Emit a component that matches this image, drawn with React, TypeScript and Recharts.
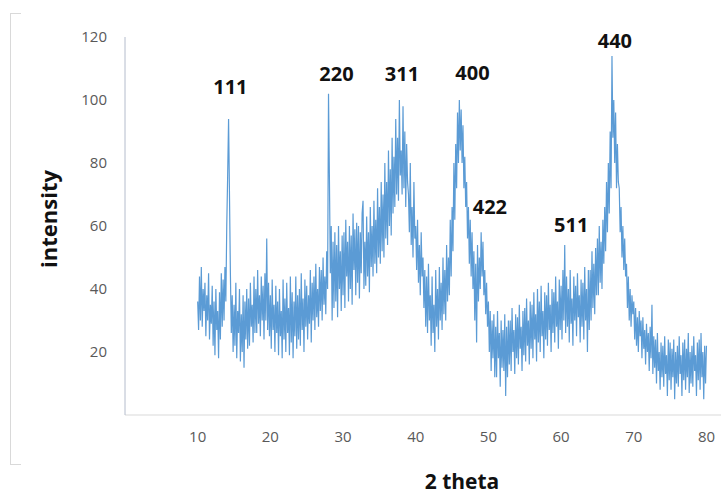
import { LineChart, Line, XAxis, YAxis, ReferenceDot } from 'recharts';

// 2-theta sampling grid (degrees)
const START_ANGLE = 10;
const STEP = 0.125;

// intensity, 8 samples per degree from 10 to 80
const INTENSITY = [
  36, 27, 44, 30, 47, 28, 40, 33, // 10
  42, 25, 38, 30, 45, 24, 35, 29,
  41, 22, 36, 19, 40, 27, 33, 18,
  39, 24, 45, 28, 43, 30, 47, 36,
  60, 76, 94, 70, 45, 26, 38, 20, // 14
  35, 22, 42, 18, 33, 26, 40, 17,
  32, 20, 38, 15, 36, 24, 40, 21,
  37, 22, 42, 28, 35, 23, 44, 26,
  40, 26, 46, 29, 38, 25, 44, 30,
  41, 24, 45, 30, 56, 27, 42, 25,
  38, 21, 43, 27, 35, 20, 41, 26, // 20
  36, 19, 40, 25, 33, 18, 43, 24,
  37, 20, 42, 26, 34, 19, 44, 23,
  39, 18, 36, 25, 44, 21, 38, 24,
  40, 22, 45, 27, 37, 20, 43, 28,
  41, 24, 38, 29, 46, 23, 42, 30,
  44, 27, 48, 31, 40, 28, 47, 33,
  46, 30, 50, 35, 44, 32, 52, 40,
  102, 75, 45, 60, 30, 55, 34, 58, // 28
  36, 54, 31, 60, 40, 52, 33, 57,
  38, 58, 34, 62, 44, 55, 36, 60, // 30
  40, 57, 35, 64, 46, 59, 38, 61,
  42, 60, 37, 58, 45, 64, 68, 40,
  55, 41, 63, 44, 58, 39, 66, 47,
  60, 44, 68, 48, 62, 45, 72, 50,
  66, 48, 74, 52, 70, 50, 80, 56,
  74, 54, 84, 60, 78, 57, 88, 64,
  82, 66, 94, 70, 88, 68, 100, 76,
  84, 70, 98, 72, 90, 66, 86, 74, // 38
  70, 58, 80, 54, 66, 50, 74, 56,
  60, 46, 62, 42, 54, 38, 58, 44, // 40
  50, 34, 46, 28, 44, 26, 48, 30,
  38, 22, 44, 26, 35, 20, 46, 28,
  40, 24, 47, 30, 42, 27, 50, 32,
  46, 30, 54, 36, 50, 38, 62, 44,
  66, 52, 80, 62, 86, 72, 96, 80,
  100, 84, 97, 80, 92, 72, 82, 66, // 46
  74, 56, 66, 48, 62, 44, 58, 40,
  52, 30, 48, 23, 54, 36, 50, 40,
  58, 44, 55, 38, 46, 32, 42, 28,
  36, 20, 33, 14, 30, 18, 32, 12, // 50
  28, 12, 33, 18, 26, 9, 30, 15,
  27, 14, 32, 6, 28, 12, 30, 16,
  30, 14, 34, 20, 27, 13, 32, 18,
  31, 16, 35, 21, 28, 14, 33, 19,
  34, 17, 37, 22, 30, 16, 36, 21,
  35, 18, 39, 24, 32, 17, 40, 23,
  36, 20, 41, 25, 33, 18, 39, 24,
  38, 22, 42, 27, 35, 20, 40, 26,
  39, 23, 44, 28, 36, 21, 43, 27,
  41, 24, 46, 30, 54, 26, 44, 28, // 60
  40, 23, 46, 29, 37, 22, 44, 30,
  41, 25, 45, 31, 38, 23, 43, 28,
  42, 24, 47, 30, 40, 20, 46, 27,
  46, 30, 52, 34, 48, 32, 53, 38,
  56, 38, 60, 42, 55, 40, 62, 48,
  66, 52, 74, 58, 80, 64, 90, 72,
  114, 88, 100, 80, 96, 72, 86, 74, // 67
  72, 58, 66, 50, 60, 46, 56, 44,
  48, 34, 44, 30, 40, 28, 38, 32,
  36, 24, 34, 22, 31, 20, 33, 25, // 70
  30, 18, 31, 21, 27, 16, 29, 20,
  26, 14, 28, 18, 35, 13, 25, 15,
  24, 10, 26, 14, 20, 8, 23, 12,
  22, 9, 25, 13, 19, 6, 24, 11,
  23, 8, 21, 12, 24, 5, 20, 10,
  22, 9, 25, 13, 19, 6, 23, 11,
  24, 8, 21, 12, 26, 7, 20, 10,
  22, 9, 25, 14, 19, 6, 23, 11,
  24, 8, 26, 12, 20, 5, 22, 10,
  22, // 80
];

const X_TICKS = [10, 20, 30, 40, 50, 60, 70, 80];
const Y_TICKS = [20, 40, 60, 80, 100, 120];

// hkl labels and where their text sits (data units)
const PEAK_LABELS = ['111', '220', '311', '400', '422', '511', '440'];
const PEAK_LABEL_ANGLE = [14.5, 29.1, 38.1, 47.8, 50.2, 61.4, 67.4];
const PEAK_LABEL_Y = [104.3, 108.3, 108.3, 108.6, 66, 60.3, 118.7];

const data = INTENSITY.map((v, i) => ({ angle: START_ANGLE + i * STEP, intensity: v }));

const FONT = '"Open Sans", "Noto Sans", sans-serif';

export default function App() {
  return (
    <div
      style={{
        position: 'absolute',
        left: 0,
        top: 0,
        width: 724,
        height: 495,
        background: '#fff',
        fontFamily: FONT,
        overflow: 'hidden',
      }}
    >
      {/* partial chart-area frame on the left */}
      <div
        style={{
          position: 'absolute',
          left: 10,
          top: 13,
          width: 10,
          height: 450,
          borderLeft: '1px solid #d9d9d9',
          borderTop: '1px solid #d9d9d9',
          borderBottom: '1px solid #d9d9d9',
        }}
      />
      <LineChart
        width={724}
        height={495}
        data={data}
        margin={{ top: 37, right: 3, left: 0, bottom: 0 }}
        style={{ position: 'absolute', left: 0, top: 0 }}
      >
        <XAxis
          type="number"
          dataKey="angle"
          domain={[0, 82]}
          ticks={X_TICKS}
          height={80}
          stroke="#d9d9d9"
          tickLine={false}
          tickMargin={10}
          tick={{ fill: '#595959', fontSize: 15, fontFamily: FONT }}
        />
        <YAxis
          type="number"
          domain={[0, 120]}
          ticks={Y_TICKS}
          width={125}
          stroke="#b4bccc"
          tickLine={false}
          tickMargin={12}
          tick={{ fill: '#595959', fontSize: 15, fontFamily: FONT }}
        />
        <Line
          type="linear"
          dataKey="intensity"
          stroke="#5b9bd5"
          strokeWidth={1.2}
          dot={false}
          isAnimationActive={false}
        />
        {PEAK_LABELS.map((hkl, i) => (
          <ReferenceDot
            key={hkl}
            x={PEAK_LABEL_ANGLE[i]}
            y={PEAK_LABEL_Y[i]}
            r={0}
            stroke="none"
            label={{
              value: hkl,
              position: 'center',
              fill: '#111',
              fontSize: 20,
              fontWeight: 700,
              fontFamily: FONT,
            }}
          />
        ))}
      </LineChart>
      <div
        style={{
          position: 'absolute',
          left: 462,
          top: 481,
          transform: 'translate(-50%, -50%)',
          fontSize: 21,
          fontWeight: 700,
          color: '#111',
          whiteSpace: 'nowrap',
          lineHeight: '22px',
        }}
      >
        2 theta
      </div>
      <div
        style={{
          position: 'absolute',
          left: 48,
          top: 219,
          transform: 'translate(-50%, -50%) rotate(-90deg)',
          fontSize: 22,
          fontWeight: 700,
          color: '#111',
          whiteSpace: 'nowrap',
        }}
      >
        intensity
      </div>
    </div>
  );
}
